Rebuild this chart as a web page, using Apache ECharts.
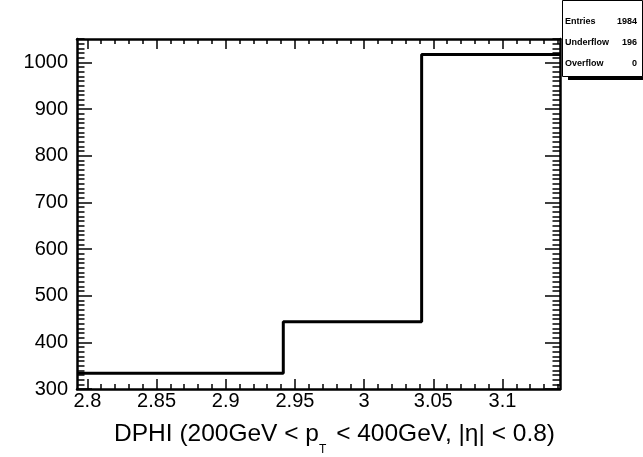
<!DOCTYPE html>
<html>
<head>
<meta charset="utf-8">
<script src="https://cdn.jsdelivr.net/npm/echarts@6/dist/echarts.min.js"></script>
<style>
html,body{margin:0;padding:0;background:#fff;}
#c{width:643px;height:457px;}
</style>
</head>
<body>
<div id="c"></div>
<script>
// ---- data ----
var binEdges = [2.7925, 2.9416, 3.0416, 3.1416];
var counts = [334, 444, 1017];
var xMin = 2.7925, xMax = 3.1416;
var yMin = 300, yMax = 1050;
var xTickLabels = [2.8, 2.85, 2.9, 2.95, 3, 3.05, 3.1];
var yTickLabels = [300, 400, 500, 600, 700, 800, 900, 1000];
var statNames = ['Entries', 'Underflow', 'Overflow'];
var statValues = ['1984', '196', '0'];
var xTitleMain1 = 'DPHI (200GeV < p';
var xTitleSub = 'T';
var xTitleMain2 = ' < 400GeV, |η| < 0.8)';

// ---- build ----
var histData = [];
for (var i = 0; i < counts.length; i++) histData.push([binEdges[i], counts[i]]);
histData.push([binEdges[binEdges.length - 1], counts[counts.length - 1]]);

var xMinor = [];
for (var k = 0; ; k++) { var v = Math.round((2.80 + 0.01 * k) * 1000) / 1000; if (v > xMax) break; xMinor.push(v); }
var yMinor = [];
for (var k2 = 0; ; k2++) { var w = yMin + 10 * k2; if (w > yMax) break; yMinor.push(w); }

var FONT = '"Liberation Sans", Arial, Helvetica, sans-serif';
var axisLineStyle = { color: '#000', width: 2.5 };
function fmt(v) { return String(Math.round(v * 1000) / 1000); }

function xAx(pos, ticks, len, labels) {
  return {
    type: 'value', min: xMin, max: xMax, position: pos,
    axisLine: { show: len === 10, lineStyle: axisLineStyle, onZero: false },
    axisTick: { show: true, inside: true, length: len, customValues: ticks, lineStyle: { color: '#000', width: 1.5 } },
    axisLabel: labels ? { show: true, customValues: ticks, formatter: fmt, fontSize: 20, fontFamily: FONT, color: '#000', margin: 2 } : { show: false },
    splitLine: { show: false }
  };
}
function yAx(pos, ticks, len, labels) {
  return {
    type: 'value', min: yMin, max: yMax, position: pos,
    axisLine: { show: len === 15, lineStyle: axisLineStyle, onZero: false },
    axisTick: { show: true, inside: true, length: len, customValues: ticks, lineStyle: { color: '#000', width: 1.5 } },
    axisLabel: labels ? { show: true, customValues: ticks, formatter: fmt, fontSize: 20, fontFamily: FONT, color: '#000', margin: 9 } : { show: false },
    splitLine: { show: false }
  };
}

var chart = echarts.init(document.getElementById('c'), null, { renderer: 'canvas' });

var graphics = [
  // x-axis title
  {
    type: 'text', z: 100, x: 555, y: 421.5,
    style: {
      text: '{a|' + xTitleMain1 + '}{s|' + xTitleSub + '}{a|' + xTitleMain2 + '}',
      align: 'right', verticalAlign: 'top',
      rich: {
        a: { fontSize: 24.5, fontFamily: FONT, fill: '#000', verticalAlign: 'top', lineHeight: 24 },
        s: { fontSize: 12, fontFamily: FONT, fill: '#000', verticalAlign: 'top', lineHeight: 24, padding: [22, 3, 0, 0] }
      }
    }
  },
  // stats box shadow
  { type: 'rect', z: 110, shape: { x: 568, y: 76, width: 75, height: 4 }, style: { fill: '#000' } },
  // stats box
  { type: 'rect', z: 111, shape: { x: 562.5, y: 0.5, width: 80, height: 76 }, style: { fill: '#fff', stroke: '#000', lineWidth: 1 } }
];
for (var j = 0; j < statNames.length; j++) {
  graphics.push({ type: 'text', z: 112, x: 565, y: 21.5 + j * 21, style: { text: statNames[j], font: 'bold 9px ' + FONT, fill: '#000', align: 'left', verticalAlign: 'middle' } });
  graphics.push({ type: 'text', z: 112, x: 637, y: 21.5 + j * 21, style: { text: statValues[j], font: 'bold 9px ' + FONT, fill: '#000', align: 'right', verticalAlign: 'middle' } });
}

chart.setOption({
  animation: false,
  backgroundColor: '#fff',
  grid: { left: 77, right: 83, top: 39, bottom: 68, containLabel: false, outerBoundsMode: 'none' },
  xAxis: [
    xAx('bottom', xTickLabels, 10, true),
    xAx('bottom', xMinor, 5, false),
    xAx('top', xTickLabels, 10, false),
    xAx('top', xMinor, 5, false)
  ],
  yAxis: [
    yAx('left', yTickLabels, 15, true),
    yAx('left', yMinor, 7.5, false),
    yAx('right', yTickLabels, 15, false),
    yAx('right', yMinor, 7.5, false)
  ],
  series: [{
    type: 'line', xAxisIndex: 0, yAxisIndex: 0,
    step: 'end', symbol: 'none',
    lineStyle: { color: '#000', width: 3 },
    data: histData
  }],
  graphic: graphics
});
</script>
</body>
</html>
